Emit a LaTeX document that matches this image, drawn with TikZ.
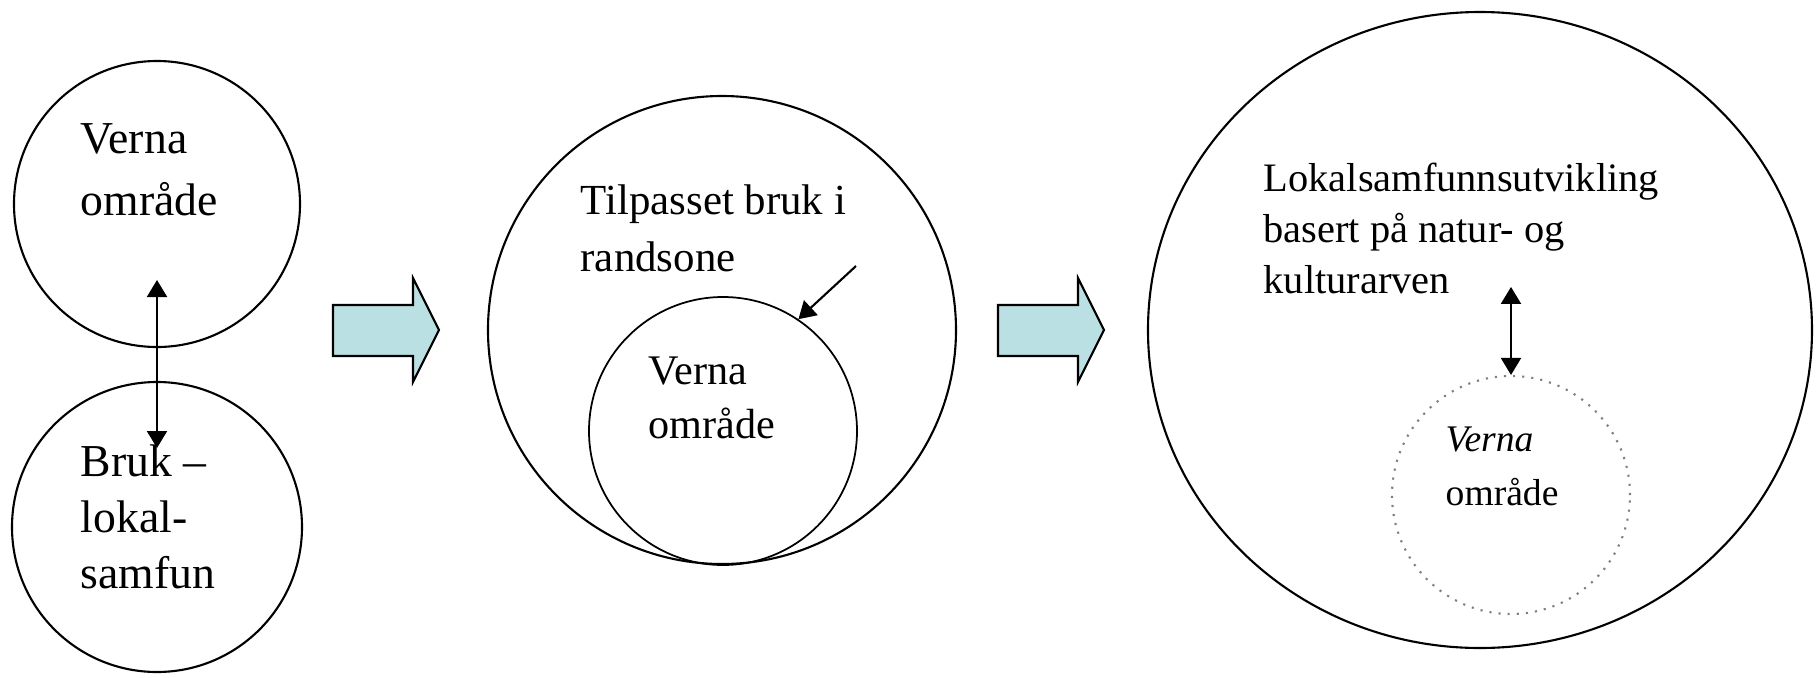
\documentclass[tikz,border=0pt]{standalone}
\usepackage{fontspec}
\setmainfont{Liberation Serif}
\usetikzlibrary{arrows.meta,shapes.geometric}
\definecolor{pil}{RGB}{187,224,227}

\begin{document}
\begin{tikzpicture}[c/.style={circle,draw,line width=0.6pt,inner sep=0pt},
  t/.style={anchor=base west,align=left,inner sep=0pt},
  blk/.style={draw,line width=0.6pt,fill=pil,line join=miter},
  >={Triangle[length=1.7mm,width=2mm]}]
  \useasboundingbox (0,0) rectangle (18.2,6.77);

  % tekstene er plassert etter siste linje
  \node[c,minimum size=2.86cm] (v1) at (1.57,4.73) {};
  \node[c,minimum size=2.9cm] (bruk) at (1.57,1.50) {};
  \node[t,font=\fontsize{13}{17.6}\selectfont] (v1t) at (0.80,4.62) {Verna\\område};
  \node[t,font=\fontsize{13}{15.8}\selectfont] (brukt) at (0.80,0.89) {Bruk –\\lokal-\\samfun};
  \draw[<->,line width=0.6pt] ([yshift=-7.6mm]v1.center) -- ([yshift=7.9mm]bruk.center);

  \node[c,minimum size=4.68cm] (rand) at (7.22,3.47) {};
  \node[c,minimum size=2.68cm,line width=0.5pt] (v2) at (7.23,2.46) {};
  \node[t,font=\fontsize{12.2}{16.2}\selectfont] (randt) at (5.80,4.06) {Tilpasset bruk i\\randsone};
  \node[t,font=\fontsize{12}{15.1}\selectfont] (v2t) at (6.48,2.39) {Verna\\område};
  \coordinate (rs) at (8.56,4.11);
  \draw[->,line width=0.6pt] (rs) -- (v2.56);

  \node[ellipse,draw,line width=0.6pt,inner sep=0pt,minimum width=6.64cm,minimum height=6.36cm] (lok) at (14.80,3.47) {};
  \node[c,minimum size=2.38cm,draw=gray,dotted] (v3) at (15.11,1.82) {};
  \node[t,font=\fontsize{11.5}{14.4}\selectfont] (lokt) at (12.63,3.84) {Lokalsamfunnsutvikling\\basert på natur- og\\kulturarven};
  \node[t,font=\fontsize{10.7}{15.1}\selectfont] (v3t) at (14.45,1.72) {\textit{Verna}\\område};
  \draw[<->,line width=0.6pt] ([yshift=8.8mm]v3.north) -- (v3.north);

  % piler mellom stegene
  \foreach \x in {3.33,9.98}
    \draw[blk] (\x,3.21) -- ++(0,0.51) -- ++(0.8,0) -- ++(0,0.27) -- ++(0.26,-0.52) -- ++(-0.26,-0.52) -- ++(0,0.26) -- cycle;
\end{tikzpicture}
\end{document}
